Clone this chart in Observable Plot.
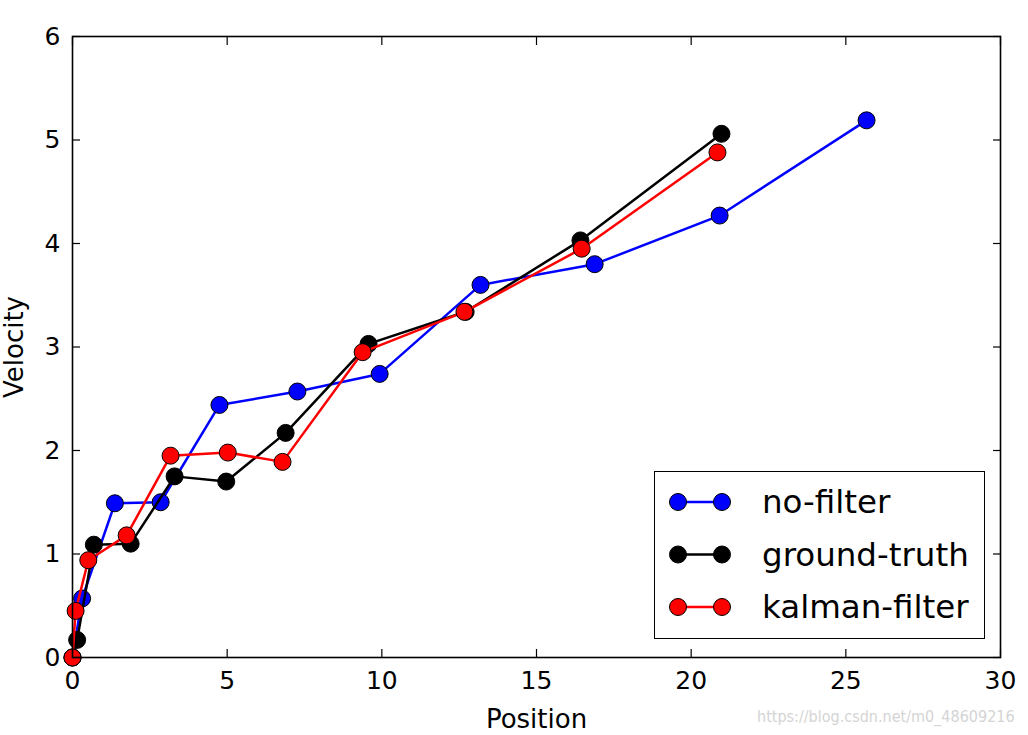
<!DOCTYPE html>
<html>
<head>
<meta charset="utf-8">
<script src="https://cdn.jsdelivr.net/npm/d3@7"></script>
<script src="https://cdn.jsdelivr.net/npm/@observablehq/plot@0.6"></script>
<style>
  html, body { margin: 0; padding: 0; background: #fff; }
  #wrap { position: relative; width: 1028px; height: 735px; font-family: "DejaVu Sans", sans-serif; }
  #legend { position: absolute; left: 654px; top: 471px; width: 329px; height: 166px; border: 1.5px solid #000; background: #fff; box-sizing: content-box; }
  #wm { position: absolute; left: 757px; top: 707px; font-family: "DejaVu Sans Condensed", "DejaVu Sans", sans-serif; font-size: 16px; color: #d4d4d4; white-space: nowrap; }
</style>
</head>
<body>
<div id="wrap"></div>
<script>
const xTicks = [0, 5, 10, 15, 20, 25, 30];
const yTicks = [0, 1, 2, 3, 4, 5, 6];
const seriesNames = ["no-filter", "ground-truth", "kalman-filter"];
const seriesColors = ["#0000ff", "#000000", "#ff0000"];

const noFilterPos = [0, 0.31, 1.37, 2.85, 4.75, 7.27, 9.93, 13.19, 16.88, 20.92, 25.67];
const noFilterVel = [0, 0.57, 1.49, 1.50, 2.44, 2.57, 2.74, 3.60, 3.80, 4.27, 5.19];

const groundTruthPos = [0, 0.15, 0.69, 1.88, 3.30, 4.97, 6.89, 9.57, 12.71, 16.42, 20.98];
const groundTruthVel = [0, 0.17, 1.09, 1.10, 1.75, 1.70, 2.17, 3.03, 3.34, 4.03, 5.06];

const kalmanPos = [0, 0.10, 0.51, 1.75, 3.17, 5.02, 6.79, 9.38, 12.67, 16.46, 20.85];
const kalmanVel = [0, 0.45, 0.94, 1.18, 1.95, 1.98, 1.89, 2.95, 3.34, 3.95, 4.88];

const allPos = [noFilterPos, groundTruthPos, kalmanPos];
const allVel = [noFilterVel, groundTruthVel, kalmanVel];

const seriesMarks = [];
seriesNames.forEach((name, i) => {
  const rows = allPos[i].map((p, j) => ({series: name, position: p, velocity: allVel[i][j]}));
  seriesMarks.push(Plot.line(rows, {x: "position", y: "velocity", stroke: seriesColors[i], strokeWidth: 2.5}));
  seriesMarks.push(Plot.dot(rows, {x: "position", y: "velocity", r: 8.5, fill: seriesColors[i], stroke: "#000", strokeWidth: 1}));
});

const blank = () => "";
const intFmt = d3.format("d");
const chart = Plot.plot({
  width: 1028,
  height: 735,
  marginLeft: 72,
  marginRight: 28,
  marginTop: 36,
  marginBottom: 78,
  style: {fontFamily: "DejaVu Sans, sans-serif", background: "transparent", color: "#000"},
  x: {domain: [0, 30]},
  y: {domain: [0, 6]},
  marks: [
    ...seriesMarks,
    Plot.frame({stroke: "#000", strokeWidth: 1.6}),
    Plot.axisX({anchor: "bottom", ticks: xTicks, tickSize: -8, tickFormat: blank, label: null, strokeWidth: 1.2}),
    Plot.axisX({anchor: "top", ticks: xTicks, tickSize: -8, tickFormat: blank, label: null, strokeWidth: 1.2}),
    Plot.axisY({anchor: "left", ticks: yTicks, tickSize: -8, tickFormat: blank, label: null, strokeWidth: 1.2}),
    Plot.axisY({anchor: "right", ticks: yTicks, tickSize: -8, tickFormat: blank, label: null, strokeWidth: 1.2}),
    Plot.axisX({anchor: "bottom", ticks: xTicks, tickSize: 0, tickPadding: 14, fontSize: 25, tickFormat: intFmt, label: null}),
    Plot.axisY({anchor: "left", ticks: yTicks, tickSize: 0, tickPadding: 12, fontSize: 25, tickFormat: intFmt, label: null}),
    Plot.text(["Position"], {frameAnchor: "bottom", dy: 70, fontSize: 26, fill: "#000"}),
    Plot.text(["Velocity"], {frameAnchor: "left", dx: -58, rotate: -90, textAnchor: "middle", fontSize: 26, fill: "#000"})
  ]
});

const wrap = document.getElementById("wrap");
wrap.appendChild(chart);

// legend
const legend = document.createElement("div");
legend.id = "legend";
const ns = "http://www.w3.org/2000/svg";
const lsvg = document.createElementNS(ns, "svg");
lsvg.setAttribute("width", 329);
lsvg.setAttribute("height", 166);
seriesNames.forEach((name, i) => {
  const cy = 30 + i * 52.5;
  const line = document.createElementNS(ns, "line");
  line.setAttribute("x1", 23); line.setAttribute("x2", 67);
  line.setAttribute("y1", cy); line.setAttribute("y2", cy);
  line.setAttribute("stroke", seriesColors[i]); line.setAttribute("stroke-width", 2.5);
  lsvg.appendChild(line);
  [23, 67].forEach(cx => {
    const c = document.createElementNS(ns, "circle");
    c.setAttribute("cx", cx); c.setAttribute("cy", cy); c.setAttribute("r", 8.5);
    c.setAttribute("fill", seriesColors[i]); c.setAttribute("stroke", "#000"); c.setAttribute("stroke-width", 1);
    lsvg.appendChild(c);
  });
  const t = document.createElementNS(ns, "text");
  t.setAttribute("x", 107); t.setAttribute("y", cy);
  t.setAttribute("dy", "0.35em");
  t.setAttribute("font-size", 32.5);
  t.setAttribute("font-family", "DejaVu Sans, sans-serif");
  t.textContent = name;
  lsvg.appendChild(t);
});
legend.appendChild(lsvg);
wrap.appendChild(legend);

const wm = document.createElement("div");
wm.id = "wm";
wm.textContent = "https://blog.csdn.net/m0_48609216";
wrap.appendChild(wm);
</script>
</body>
</html>
